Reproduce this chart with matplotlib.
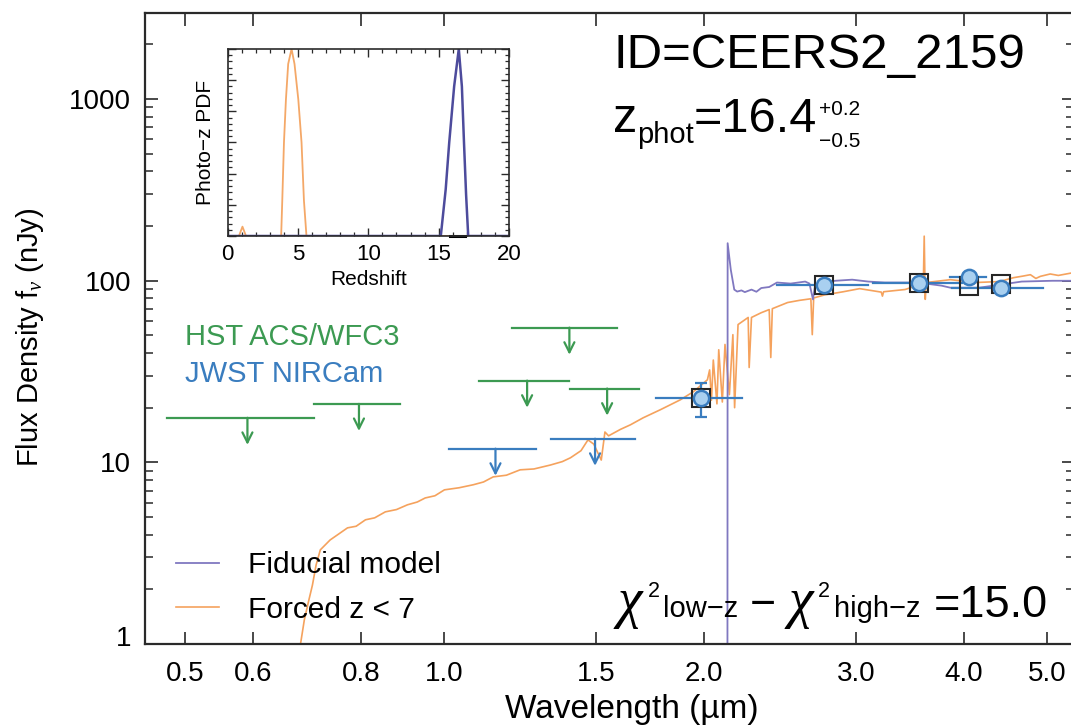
import matplotlib
matplotlib.use('Agg')
import matplotlib.pyplot as plt
import matplotlib.transforms as mtrans
from matplotlib.ticker import FixedLocator, NullLocator, LogLocator, MultipleLocator, NullFormatter, FixedFormatter

plt.rcParams['font.family'] = ['Liberation Sans', 'DejaVu Sans']
plt.rcParams['mathtext.fontset'] = 'custom'
plt.rcParams['mathtext.rm'] = 'Liberation Sans'
plt.rcParams['mathtext.it'] = 'Liberation Serif:italic'
plt.rcParams['mathtext.bf'] = 'Liberation Sans:bold'

# ---------------- data ----------------
# Forced z<7 model spectrum (orange)
orange_wave = [0.45, 0.678, 0.681, 0.688, 0.695, 0.703, 0.710, 0.718, 0.737, 0.755, 0.772,
               0.790, 0.810, 0.830, 0.854, 0.880, 0.906, 0.930, 0.950, 0.975, 1.000, 1.040,
               1.080, 1.110, 1.139, 1.180, 1.224, 1.270, 1.327, 1.370, 1.400, 1.440, 1.467,
               1.490, 1.520, 1.535, 1.550, 1.600, 1.643, 1.700, 1.780, 1.877, 1.944, 2.018,
               2.030, 2.040, 2.050, 2.070, 2.080, 2.100, 2.115, 2.140, 2.160, 2.170, 2.190,
               2.250, 2.256, 2.270, 2.330, 2.380, 2.390, 2.400, 2.500, 2.580, 2.660, 2.670,
               2.680, 2.760, 2.900, 3.030, 3.210, 3.220, 3.230, 3.420, 3.560, 3.590, 3.600,
               3.610, 3.620, 3.860, 4.130, 4.400, 4.570, 4.680, 4.780, 4.850, 4.910, 5.040,
               5.150, 5.370]
orange_flux = [0.01, 0.01, 1.0, 1.36, 1.68, 2.11, 2.73, 3.30, 3.74, 4.05, 4.36,
               4.45, 4.83, 4.95, 5.34, 5.50, 5.84, 6.05, 6.37, 6.55, 7.06, 7.25,
               7.53, 7.80, 8.32, 8.50, 9.10, 9.20, 9.67, 10.1, 10.6, 11.6, 13.3,
               12.6, 10.3, 14.7, 14.0, 15.2, 16.1, 17.6, 19.5, 22.1, 24.5, 28.5,
               32.3, 22.0, 36.6, 21.0, 41.7, 21.5, 44.6, 23.6, 50.5, 20.0, 57.4,
               62.8, 33.3, 62.8, 66.7, 69.4, 37.8, 70.2, 75.9, 78.0, 79.6, 50.5,
               80.4, 83.6, 87.0, 90.5, 86.6, 82.3, 87.0, 89.5, 95.2, 87.0, 176,
               79.0, 97.8, 101.4, 97.8, 99.0, 104, 106, 108, 103, 105.8, 109,
               107, 111]

# Fiducial model spectrum (purple)
purple_wave = [0.45, 2.128, 2.130, 2.148, 2.168, 2.185, 2.210, 2.230, 2.270, 2.300, 2.330,
               2.380, 2.430, 2.520, 2.620, 2.650, 2.675, 2.690, 2.750, 2.840, 2.970, 3.100,
               3.240, 3.540, 3.770, 3.860, 4.170, 4.400, 4.670, 5.070, 5.370]
purple_flux = [0.01, 0.01, 161, 115, 89.4, 87.2, 88.5, 86.6, 89.4, 87.0, 91.2,
               92.4, 97.8, 96.5, 99.0, 96.5, 79.0, 94.0, 97.8, 100, 101.4, 99,
               97.8, 97.8, 94, 91.6, 91.6, 95, 99, 100, 100]

# HST ACS/WFC3 upper limits
hst_lim_wave = [0.591, 0.796, 1.247, 1.396, 1.544]
hst_lim_lo = [0.477, 0.706, 1.097, 1.199, 1.399]
hst_lim_hi = [0.706, 0.889, 1.396, 1.586, 1.683]
hst_lim_flux = [17.6, 21.0, 28.2, 55.2, 25.5]

# JWST NIRCam upper limits
jwst_lim_wave = [1.146, 1.495]
jwst_lim_lo = [1.013, 1.330]
jwst_lim_hi = [1.278, 1.665]
jwst_lim_flux = [11.9, 13.5]

# JWST NIRCam detections
det_wave = [1.984, 2.757, 3.55, 4.06, 4.42]
det_lo = [1.76, 2.43, 3.14, 3.86, 3.88]
det_hi = [2.215, 3.10, 3.98, 4.25, 4.95]
det_flux = [22.7, 95.3, 97.8, 104.5, 91.4]
det_err_lo = [4.9, 2.5, 2.5, 2.5, 2.5]
det_err_hi = [4.8, 2.5, 2.5, 2.5, 2.5]
model_phot = [22.7, 95.3, 97.8, 93.3, 96.1]

# Photo-z PDFs
pdf_z_orange = [0.0, 0.8, 0.95, 1.05, 1.15, 1.3, 3.8, 3.88, 4.0, 4.14, 4.3, 4.54, 4.75,
                5.02, 5.25, 5.42, 5.6, 20.0]
pdf_orange = [0.0, 0.0, 0.03, 0.05, 0.03, 0.0, 0.0, 0.19, 0.5, 0.73, 0.92, 1.0, 0.92,
              0.73, 0.5, 0.19, 0.0, 0.0]
pdf_z_purple = [0.0, 15.15, 15.5, 15.75, 16.1, 16.43, 16.65, 16.8, 16.95, 17.1, 20.0]
pdf_purple = [0.0, 0.0, 0.25, 0.5, 0.8, 1.0, 0.8, 0.5, 0.22, 0.0, 0.0]
pdf_interval = [15.8, 16.85]

xticks = [0.5, 0.6, 0.8, 1.0, 1.5, 2.0, 3.0, 4.0, 5.0]
xticklabels = ['0.5', '0.6', '0.8', '1.0', '1.5', '2.0', '3.0', '4.0', '5.0']
yticks = [1, 10, 100, 1000]
yticklabels = ['1', '10', '100', '1000']

# ---------------- style ----------------
C_OR = '#f5a25d'
C_PU = '#8078c0'
C_GR = '#3c9a52'
C_BL = '#3a7dbf'
C_FACE = '#a9d0f0'
C_AX = '#2a2a2a'

W, H = 1071, 728
fig = plt.figure(figsize=(W / 100, H / 100), dpi=100)


def fx(x):
    return x / W


def fy(y):
    return 1 - y / H


ax = fig.add_axes([fx(144.5), fy(644), (1074 - 144.5) / W, (644 - 12.5) / H])
ax.set_xscale('log')
ax.set_yscale('log')
ax.set_xlim(0.449, 5.37)
ax.set_ylim(1, 3000)

l_or, = ax.plot(orange_wave, orange_flux, color=C_OR, lw=1.2, zorder=2)
l_pu, = ax.plot(purple_wave, purple_flux, color=C_PU, lw=1.3, zorder=2.1)

ARROW = 1.41
for w, lo, hi, f in zip(hst_lim_wave, hst_lim_lo, hst_lim_hi, hst_lim_flux):
    ax.plot([lo, hi], [f, f], color=C_GR, lw=1.6, zorder=3)
    ax.annotate('', xy=(w, f / ARROW), xytext=(w, f),
                arrowprops=dict(arrowstyle='->', color=C_GR, lw=1.6,
                                mutation_scale=18, shrinkA=0, shrinkB=0), zorder=3)
for w, lo, hi, f in zip(jwst_lim_wave, jwst_lim_lo, jwst_lim_hi, jwst_lim_flux):
    ax.plot([lo, hi], [f, f], color=C_BL, lw=1.6, zorder=3)
    ax.annotate('', xy=(w, f / ARROW), xytext=(w, f),
                arrowprops=dict(arrowstyle='->', color=C_BL, lw=1.6,
                                mutation_scale=18, shrinkA=0, shrinkB=0), zorder=3)

for w, lo, hi, f in zip(det_wave, det_lo, det_hi, det_flux):
    ax.plot([lo, hi], [f, f], color=C_BL, lw=1.6, zorder=3)
ax.errorbar(det_wave, det_flux, yerr=[det_err_lo, det_err_hi], fmt='none',
            ecolor=C_BL, elinewidth=1.6, capsize=4.5, capthick=1.6, zorder=3)
ax.plot(det_wave, model_phot, ls='none', marker='s', ms=12.5, mfc='none',
        mec='#262626', mew=1.5, zorder=4)
ax.plot(det_wave, det_flux, ls='none', marker='o', ms=11, mfc=C_FACE,
        mec=C_BL, mew=1.8, zorder=5)

ax.xaxis.set_major_locator(FixedLocator(xticks))
ax.xaxis.set_major_formatter(FixedFormatter(xticklabels))
ax.xaxis.set_minor_locator(NullLocator())
ax.yaxis.set_major_locator(FixedLocator(yticks))
ax.yaxis.set_major_formatter(FixedFormatter(yticklabels))
ax.yaxis.set_minor_locator(LogLocator(base=10, subs=range(2, 10)))
ax.yaxis.set_minor_formatter(NullFormatter())
ax.tick_params(axis='both', which='major', direction='in', length=9, width=1.2,
               color=C_AX, labelsize=20, top=True, right=True)
ax.tick_params(axis='both', which='minor', direction='in', length=5.5, width=1.1,
               color=C_AX, top=True, right=True)
ax.tick_params(axis='x', which='major', pad=12)
ax.tick_params(axis='y', which='major', pad=9.5)
for s in ax.spines.values():
    s.set_linewidth(1.6)
    s.set_color(C_AX)

# lift the lowest y label slightly, as in the reference
first_tick = ax.yaxis.get_major_ticks()[0]
first_tick.label1.set_transform(first_tick.label1.get_transform() +
                                mtrans.ScaledTranslation(0, 0.08, fig.dpi_scale_trans))

ax.set_xlabel('Wavelength (µm)', fontsize=24)
ax.xaxis.set_label_coords(0.5245, -0.079)
ax.set_ylabel(r'Flux Density f$_\nu$ (nJy)', fontsize=21)
ax.yaxis.set_label_coords(-0.106, 0.486)

ax.legend(handles=[l_pu, l_or], labels=['Fiducial model', 'Forced z < 7'],
          loc='lower left', bbox_to_anchor=(0.034, 0.032), frameon=False,
          fontsize=21.5, handlelength=1.45, handletextpad=0.95, labelspacing=0.55,
          borderpad=0, borderaxespad=0)

# ---------------- texts ----------------
fig.text(fx(185), fy(345), 'HST ACS/WFC3', color=C_GR, fontsize=21, va='baseline', ha='left')
fig.text(fx(185), fy(382), 'JWST NIRCam', color=C_BL, fontsize=21, va='baseline', ha='left')

fig.text(fx(613), fy(68), 'ID=CEERS2_2159', fontsize=35.5, va='baseline', ha='left')
fig.text(fx(613), fy(132), 'z', fontsize=35, va='baseline', ha='left')
fig.text(fx(637), fy(143), 'phot', fontsize=21, va='baseline', ha='left')
fig.text(fx(694), fy(132), '=16.4', fontsize=35, va='baseline', ha='left')
fig.text(fx(819), fy(115), '+0.2', fontsize=15, va='baseline', ha='left')
fig.text(fx(819), fy(147), '\u22120.5', fontsize=15, va='baseline', ha='left')

CHI = dict(family='Liberation Serif', style='italic', fontsize=40, va='baseline', ha='left')
fig.text(fx(617), fy(617), '\u03c7', **CHI)
fig.text(fx(648), fy(597), '2', fontsize=15.5, va='baseline', ha='left')
fig.text(fx(663), fy(617), 'low\u2212z', fontsize=21, va='baseline', ha='left')
fig.text(fx(750), fy(617), '\u2212', fontsize=32, va='baseline', ha='left')
fig.text(fx(788), fy(617), '\u03c7', **CHI)
fig.text(fx(818), fy(597), '2', fontsize=15.5, va='baseline', ha='left')
fig.text(fx(834), fy(617), 'high\u2212z', fontsize=21, va='baseline', ha='left')
fig.text(fx(934), fy(617), '=15.0', fontsize=32.5, va='baseline', ha='left')

# ---------------- inset ----------------
axi = fig.add_axes([fx(227.7), fy(236), (509 - 227.7) / W, (236 - 49) / H])
axi.plot(pdf_z_orange, pdf_orange, color='#f4a868', lw=1.3)
axi.plot(pdf_z_purple, pdf_purple, color='#4d4b9c', lw=1.8)
axi.plot(pdf_interval, [0, 0], color='black', lw=2.2, clip_on=False)
axi.set_xlim(0, 20)
axi.set_ylim(0, 1.0)
axi.xaxis.set_major_locator(MultipleLocator(5))
axi.xaxis.set_minor_locator(MultipleLocator(1))
axi.yaxis.set_major_locator(MultipleLocator(1 / 6))
axi.yaxis.set_minor_locator(MultipleLocator(1 / 30))
axi.yaxis.set_major_formatter(NullFormatter())
axi.tick_params(axis='both', which='major', direction='in', length=6, width=1.0,
                color=C_AX, labelsize=16, top=True, right=True, pad=6)
axi.tick_params(axis='both', which='minor', direction='in', length=3, width=0.9,
                color=C_AX, top=True, right=True)
for s in axi.spines.values():
    s.set_linewidth(1.2)
    s.set_color(C_AX)
axi.set_xlabel('Redshift', fontsize=15)
axi.xaxis.set_label_coords(0.5, -0.18)
axi.set_ylabel('Photo\u2212z PDF', fontsize=15)
axi.yaxis.set_label_coords(-0.045, 0.5)

fig.savefig('out.png', dpi=100)
